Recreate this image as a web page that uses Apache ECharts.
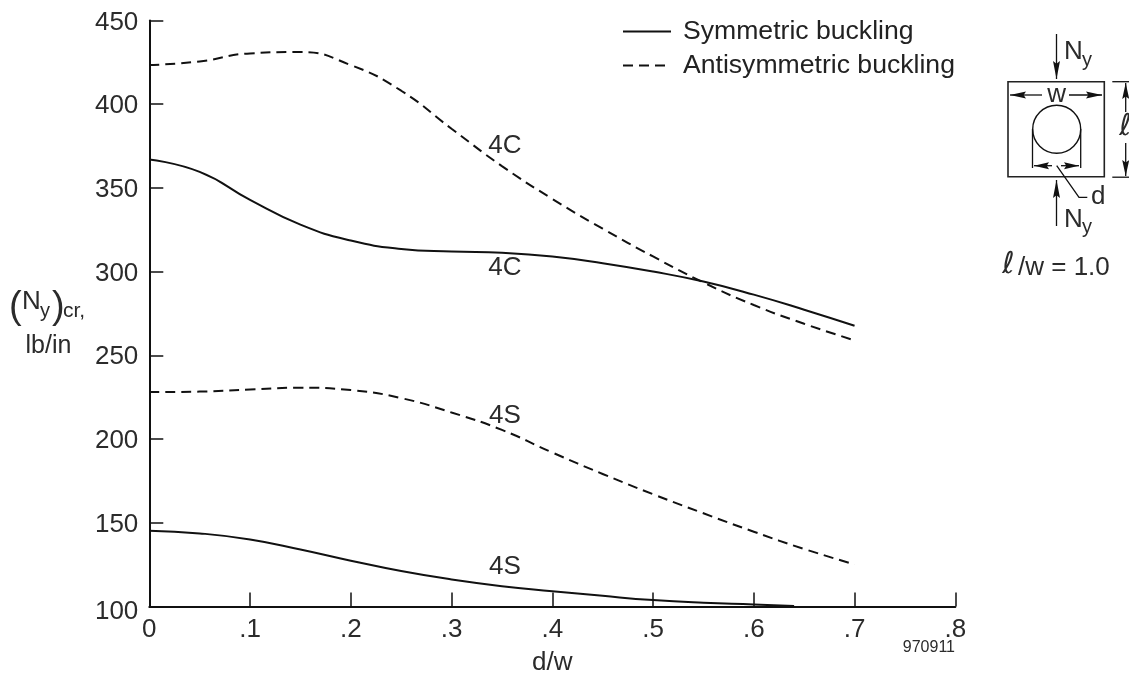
<!DOCTYPE html>
<html><head><meta charset="utf-8">
<style>html,body{margin:0;padding:0;background:#fff}#c{width:1129px;height:683px}</style>
<script src="https://cdn.jsdelivr.net/npm/echarts@6/dist/echarts.min.js"></script>
</head><body><div id="c"></div>
<script>
const dw = [0,.05,.1,.15,.2,.25,.3,.35,.4,.45,.5,.55,.6,.65,.7];
const sym4C = [366.9,359.5,342.8,328,318.5,313.5,311.9,311.2,309,305,300,294,286.2,277.2,267.6];
const anti4C = [423.3,425.5,430.3,431.1,423.3,408,385.3,363,343.4,325.6,309,293.5,280,268.8,258.9];
const anti4S = [228,228.3,229.5,230.6,229.2,224.4,215.8,205.4,191.9,179.1,167,155.6,144.6,134.3,125.1];
const sym4Sx = [0,.05,.1,.15,.2,.25,.3,.35,.4,.45,.5,.55,.6,.64];
const sym4S = [145.2,143.6,140,134,127.3,121.1,116.1,112.1,109.1,106.3,103.8,102.2,101.2,100.3];
const curveLabels = [[.353,375,'4C'],[.353,302,'4C'],[.353,213.8,'4S'],[.353,123.5,'4S']];
const xTickLabels = ['0','.1','.2','.3','.4','.5','.6','.7','.8'];
const nameSym = 'Symmetric buckling', nameAnti = 'Antisymmetric buckling';

const FF = '"Liberation Sans", Arial, sans-serif', INK = '#2b2b2b', LINE = '#111';
const zip = (xs, ys) => xs.map((x, i) => [x, ys[i]]);
const solid = {color: LINE, width: 2};
const dashed = {color: LINE, width: 2, type: [10, 6]};
const line = (name, data, ls) => ({type:'line', name, data, smooth:0.5, showSymbol:false, symbol:'none', lineStyle:ls, itemStyle:{color:LINE}, silent:true});

// annotation helpers (inset sketch and axis caption)
const txt = (s, x, base, size, align, font) => ({type:'text', style:{text:s, x, y:base-0.76*size, font:`${font||''} ${size}px ${font?'"DejaVu Sans"':FF}`, fill:INK, textAlign:align||'left'}});
const pl = (pts, w) => ({type:'polyline', shape:{points:pts}, style:{stroke:LINE, lineWidth:w||1.3, fill:null}});
const head = (tx, ty, bx, by, hw) => {
  const dx = bx-tx, dy = by-ty, l = Math.hypot(dx,dy), nx = -dy/l*hw, ny = dx/l*hw;
  return {type:'polygon', shape:{points:[[tx,ty],[bx+nx,by+ny],[tx+dx*0.85,ty+dy*0.85],[bx-nx,by-ny]]}, style:{fill:LINE}};
};
const arrow = (x0,y0,tx,ty,len,hw) => {
  const dx=x0-tx, dy=y0-ty, l=Math.hypot(dx,dy);
  return [pl([[x0,y0],[tx,ty]]), head(tx,ty,tx+dx/l*len,ty+dy/l*len,hw||3.5)];
};
const sketch = [
  {type:'rect', shape:{x:1008,y:81.7,width:96.3,height:95}, style:{stroke:'#222',lineWidth:1.6,fill:null}},
  {type:'circle', shape:{cx:1056.7,cy:129.3,r:24}, style:{stroke:LINE,lineWidth:1.4,fill:null}},
  pl([[1032.5,129],[1032.5,168]]), pl([[1080.7,129],[1080.7,168]]),
  ...arrow(1056.5,34,1056.5,79,18),
  ...arrow(1056.5,226,1056.5,180,18),
  ...arrow(1042,95,1010,95,16),
  ...arrow(1069,95,1102,95,16),
  ...arrow(1052,165.7,1034,165.7,15),
  ...arrow(1061,165.7,1079,165.7,15),
  pl([[1056.7,165.7],[1079,197.3],[1087.3,197.3]]),
  pl([[1112.3,81.7],[1129,81.7]]), pl([[1112.3,177.2],[1129,177.2]]),
  ...arrow(1125.7,112,1125.7,83,16),
  ...arrow(1125.7,143,1125.7,176,16),
  txt('N',1064,59,26), txt('y',1082,66,20),
  txt('N',1064,226.7,26), txt('y',1082,233,20),
  txt('w',1056.7,102,26,'center'),
  txt('d',1091,204,26),
  txt('\u2113',1119,135,30,'left','italic'),
  txt('\u2113',1002,273,30,'left','italic'),
  txt('/w = 1.0',1018,275,26),
  txt('(',9,317,38), txt('N',22,309,26), txt('y',40,317,20), txt(')',52,317,38), txt('cr,',63,317,21),
  txt('lb/in',48.5,353,25,'center'),
  txt('970911',955,652,16,'right')
];

const chart = echarts.init(document.getElementById('c'), null, {renderer:'canvas'});
chart.setOption({
  animation:false, backgroundColor:'#fff',
  grid:{left:149.3, top:20.4, width:806, height:586, containLabel:false},
  legend:{left:617, top:13, orient:'vertical', itemWidth:48, itemHeight:14, itemGap:7, data:[nameSym,nameAnti],
    itemStyle:{color:'transparent', borderWidth:0, opacity:0},
    textStyle:{fontFamily:FF, fontSize:26.6, color:'#222', padding:[0,0,0,7], height:23, lineHeight:23}},
  xAxis:{type:'value', min:0, max:.8, interval:.1, splitLine:{show:false}, name:'d/w', nameLocation:'middle', nameGap:43,
    nameTextStyle:{fontFamily:FF, fontSize:26, color:INK},
    axisLine:{show:true, lineStyle:{color:LINE,width:2}}, axisTick:{show:true, inside:true, length:14, lineStyle:{color:LINE,width:1.5}},
    axisLabel:{margin:10, fontFamily:FF, fontSize:26, color:INK, formatter:(v,i)=>xTickLabels[i], showMinLabel:true, showMaxLabel:true}},
  yAxis:{type:'value', min:100, max:450, interval:50, splitLine:{show:false},
    axisLine:{show:true, lineStyle:{color:LINE,width:2}}, axisTick:{show:true, inside:true, length:14, lineStyle:{color:LINE,width:1.5}},
    axisLabel:{margin:11, fontFamily:FF, fontSize:26, color:INK, padding:[4,0,0,0], showMinLabel:true, showMaxLabel:true,
      formatter:v=> v===100 ? '{low|100}' : String(v),
      rich:{low:{fontFamily:FF, fontSize:26, color:INK, padding:[6,0,0,0]}}}},
  series:[
    line(nameSym, zip(dw,sym4C), solid),
    line(nameAnti, zip(dw,anti4C), dashed),
    line(nameAnti, zip(dw,anti4S), dashed),
    line(nameSym, zip(sym4Sx,sym4S), solid),
    {type:'scatter', name:'labels', data:curveLabels, symbolSize:0, silent:true, itemStyle:{opacity:1},
     label:{show:true, position:'inside', opacity:1, fontFamily:FF, fontSize:26, color:INK, formatter:p=>p.data[2]}}
  ],
  graphic:{elements:sketch}
});
</script></body></html>
